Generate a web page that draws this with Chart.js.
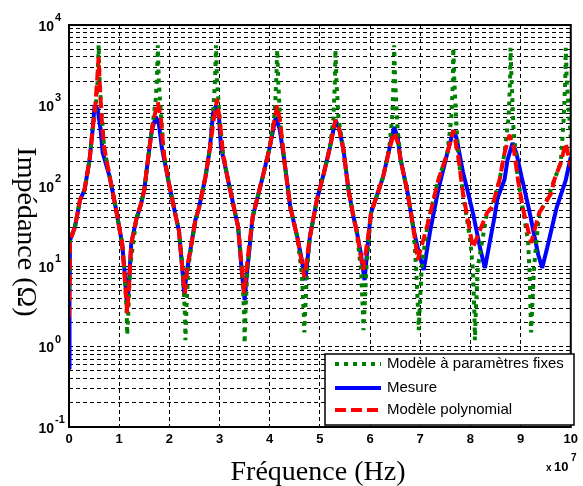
<!DOCTYPE html>
<html>
<head>
<meta charset="utf-8">
<script src="https://cdn.jsdelivr.net/npm/chart.js@4/dist/chart.umd.min.js"></script>
<style>
html,body{margin:0;padding:0;background:#fff;overflow:hidden}
canvas{display:block}
</style>
</head>
<body>
<canvas id="c" width="583" height="486"></canvas>
<script>
// ---- Data (frequency in units of 1e7 Hz, impedance in ohms) ----
const seriesLabels = ['Modèle à paramètres fixes', 'Mesure', 'Modèle polynomial'];
const xTitle = 'Fréquence (Hz)';
const yTitle = 'Impédance (Ω)';
const xTickValues = [0,1,2,3,4,5,6,7,8,9,10];
const yDecadeExponents = [-1,0,1,2,3,4];
const yGridValues = [0.1,0.2,0.3,0.4,0.5,0.6,0.7,0.8,0.9,
  1,2,3,4,5,6,7,8,9,10,20,30,40,50,60,70,80,90,
  100,200,300,400,500,600,700,800,900,1000,2000,3000,4000,5000,6000,7000,8000,9000,10000];
const xMultiplierExp = 7;

const mesure = [
 [0,0.53],[0.01,5],[0.02,21],[0.12,31],[0.22,67],[0.31,89],[0.41,210],[0.47,490],[0.51,1000],[0.57,900],[0.63,500],[0.67,260],
 [0.81,130],[0.94,50],[1.06,19],[1.12,7],[1.16,3.0],[1.20,7],[1.24,19],[1.34,38],[1.44,61],[1.50,89],[1.59,256],[1.65,490],
 [1.73,720],[1.79,600],[1.85,300],[1.99,108],[2.13,41],[2.19,28],[2.26,9],[2.30,4.2],[2.34,8],[2.42,16],[2.52,38],[2.58,50],
 [2.72,129],[2.81,300],[2.87,800],[2.93,1000],[2.99,700],[3.03,300],[3.17,118],[3.31,46],[3.37,31],[3.44,9],[3.50,3.8],[3.56,10],
 [3.66,41],[3.86,129],[4.00,300],[4.12,720],[4.20,500],[4.29,210],[4.41,54],[4.55,23],[4.64,12],[4.71,6.7],[4.80,23],[4.94,67],
 [5.08,144],[5.20,300],[5.31,660],[5.39,500],[5.47,280],[5.57,89],[5.67,41],[5.73,28],[5.82,14],[5.89,6.7],[5.98,28],[6.02,46],
 [6.26,129],[6.38,280],[6.48,540],[6.55,400],[6.61,210],[6.75,81],[6.87,28],[6.98,14],[7.07,9],[7.20,28],[7.36,89],[7.54,256],
 [7.66,490],[7.72,400],[7.85,150],[8.05,46],[8.20,16],[8.29,9.5],[8.43,28],[8.48,41],[8.54,70],[8.68,120],[8.74,210],[8.84,340],
 [8.92,250],[9.02,129],[9.17,50],[9.35,14],[9.43,9.5],[9.53,17],[9.72,54],[9.90,118],[10.0,228]
];

const polynomial = [
 [0,2.3],[0.01,6],[0.02,21],[0.12,31],[0.22,67],[0.31,89],[0.41,210],[0.47,490],[0.53,1100],[0.57,2500],[0.59,4000],[0.61,2000],
 [0.65,700],[0.70,300],[0.81,130],[0.94,50],[1.06,19],[1.12,6],[1.16,2.6],[1.20,6],[1.24,19],[1.34,38],[1.44,61],[1.50,89],
 [1.59,256],[1.67,600],[1.77,1100],[1.83,700],[1.89,250],[1.99,108],[2.13,41],[2.19,28],[2.26,9],[2.31,4.6],[2.36,10],[2.42,16],
 [2.52,38],[2.58,50],[2.72,129],[2.81,300],[2.89,700],[2.95,1200],[3.01,600],[3.07,250],[3.17,118],[3.31,46],[3.37,31],[3.44,10],
 [3.49,4.6],[3.55,11],[3.66,41],[3.86,129],[4.00,300],[4.10,700],[4.15,1000],[4.21,600],[4.29,210],[4.41,54],[4.55,23],[4.63,12],
 [4.69,7.3],[4.80,23],[4.94,67],[5.08,144],[5.20,300],[5.31,660],[5.37,550],[5.47,280],[5.57,89],[5.67,41],[5.73,28],[5.80,15],
 [5.86,9],[5.98,28],[6.02,46],[6.26,129],[6.38,280],[6.48,460],[6.55,350],[6.61,210],[6.75,81],[6.87,28],[6.95,12],[7.05,20],
 [7.15,34],[7.36,118],[7.54,256],[7.66,490],[7.76,228],[7.85,81],[7.89,60],[8.05,17],[8.19,28],[8.33,46],[8.43,54],[8.58,118],
 [8.68,256],[8.78,430],[8.86,300],[8.94,129],[9.04,54],[9.21,19.5],[9.37,46],[9.53,67],[9.61,81],[9.67,118],[9.80,192],[9.90,340],
 [10.0,171]
];

const fixedParams = [
 [0,4],[0.02,21],[0.12,31],[0.22,67],[0.31,89],[0.41,210],[0.47,490],[0.53,900],[0.57,2000],[0.59,5600],[0.61,2000],[0.65,800],
 [0.70,300],[0.81,130],[0.94,50],[1.06,19],[1.11,8],[1.15,2.5],[1.16,1.4],[1.18,2.5],[1.22,10],[1.34,38],[1.44,61],[1.50,89],
 [1.59,256],[1.67,600],[1.73,1200],[1.76,3000],[1.77,5600],[1.79,2000],[1.83,800],[1.89,250],[1.99,108],[2.13,41],[2.19,28],[2.27,9],
 [2.31,2.5],[2.32,1.2],[2.34,3],[2.38,10],[2.52,38],[2.58,50],[2.72,129],[2.81,300],[2.87,800],[2.91,2000],[2.93,5600],[2.95,2000],
 [3.01,600],[3.07,250],[3.17,118],[3.31,46],[3.37,31],[3.45,9],[3.49,2.5],[3.50,1.1],[3.52,3],[3.56,10],[3.66,41],[3.86,129],
 [4.00,300],[4.10,800],[4.13,2000],[4.15,4900],[4.17,2000],[4.21,600],[4.29,210],[4.41,54],[4.55,23],[4.64,8],[4.68,2.5],[4.69,1.5],
 [4.71,3],[4.75,10],[4.80,23],[4.94,67],[5.08,144],[5.20,300],[5.27,700],[5.30,2000],[5.31,4900],[5.33,2000],[5.37,700],[5.47,280],
 [5.57,89],[5.67,41],[5.73,28],[5.82,9],[5.86,2.5],[5.87,1.6],[5.89,3],[5.93,10],[6.02,46],[6.26,129],[6.38,280],[6.44,700],
 [6.47,2000],[6.48,5600],[6.50,2000],[6.55,500],[6.61,210],[6.75,81],[6.87,28],[6.92,9],[6.96,2.5],[6.97,1.6],[6.99,3],[7.03,10],
 [7.15,34],[7.36,118],[7.54,256],[7.62,700],[7.65,2000],[7.66,5200],[7.68,2000],[7.72,600],[7.76,228],[7.85,81],[8.00,20],[8.05,9],
 [8.08,2.5],[8.09,1.2],[8.11,3],[8.15,10],[8.33,46],[8.43,54],[8.58,118],[8.68,256],[8.76,700],[8.79,2000],[8.80,5200],[8.82,2000],
 [8.86,500],[8.94,129],[9.04,54],[9.15,20],[9.18,8],[9.20,2.5],[9.21,1.5],[9.23,3],[9.27,10],[9.37,46],[9.53,67],[9.67,118],
 [9.80,192],[9.86,700],[9.89,2000],[9.90,5200],[9.92,2000],[9.96,900],[10.0,400]
];

// ---- Chart ----
const toXY = arr => arr.map(p => ({x: p[0], y: p[1]}));
const sansFont = '"Liberation Sans", Arial, Helvetica, sans-serif';
const serifFont = '"Liberation Serif", "Times New Roman", serif';

const decorPlugin = {
  id: 'decor',
  afterDraw(chart) {
    const ctx = chart.ctx;
    const a = chart.chartArea;
    const ys = chart.scales.y;
    ctx.save();
    ctx.setLineDash([]);
    // plot frame
    ctx.strokeStyle = '#000';
    ctx.lineWidth = 2;
    ctx.strokeRect(a.left, a.top, a.right - a.left, a.bottom - a.top);

    // y decade labels 10^n
    ctx.fillStyle = '#000';
    yDecadeExponents.forEach(e => {
      const py = ys.getPixelForValue(Math.pow(10, e));
      ctx.font = 'bold 14px ' + sansFont;
      ctx.textAlign = 'right';
      ctx.textBaseline = 'middle';
      ctx.fillText('10', a.left - 15, py + 2);
      ctx.font = 'bold 11px ' + sansFont;
      ctx.textAlign = 'left';
      ctx.fillText(String(e), a.left - 14, py - 7);
    });

    // x multiplier  x 10^7
    ctx.textBaseline = 'middle';
    ctx.textAlign = 'left';
    ctx.font = 'bold 10px ' + sansFont;
    ctx.fillText('x', 546, 468);
    ctx.font = 'bold 13px ' + sansFont;
    ctx.fillText('10', 554, 467);
    ctx.font = 'bold 10px ' + sansFont;
    ctx.fillText(String(xMultiplierExp), 571, 458);

    // axis titles
    ctx.font = '28px ' + serifFont;
    ctx.textAlign = 'center';
    ctx.textBaseline = 'alphabetic';
    ctx.fillText(xTitle, 318, 480);
    ctx.save();
    ctx.translate(25, 232);
    ctx.rotate(Math.PI / 2);
    ctx.textBaseline = 'middle';
    ctx.fillText(yTitle, 0, 0);
    ctx.restore();

    // legend
    const lx = 325, ly = 354, lw = 249, lh = 71;
    ctx.fillStyle = '#fff';
    ctx.fillRect(lx, ly, lw, lh);
    ctx.strokeStyle = '#000';
    ctx.lineWidth = 1.5;
    ctx.strokeRect(lx, ly, lw, lh);
    const rowsY = [364, 388, 410];
    const dsByLabel = {};
    chart.data.datasets.forEach(d => { dsByLabel[d.label] = d; });
    seriesLabels.forEach((lab, i) => {
      const d = dsByLabel[lab];
      const y = rowsY[i];
      ctx.save();
      ctx.strokeStyle = d.borderColor;
      ctx.lineWidth = d.borderWidth;
      ctx.lineCap = 'butt';
      ctx.setLineDash(d.borderDash || []);
      ctx.beginPath();
      ctx.moveTo(335, y);
      ctx.lineTo(381, y);
      ctx.stroke();
      ctx.restore();
      ctx.fillStyle = '#000';
      ctx.font = '15px ' + sansFont;
      ctx.textAlign = 'left';
      ctx.textBaseline = 'middle';
      ctx.fillText(lab, 387, y);
    });
    ctx.restore();
  }
};

new Chart(document.getElementById('c'), {
  type: 'line',
  data: {
    datasets: [
      { label: seriesLabels[2], data: toXY(polynomial), borderColor: '#ff0000', borderWidth: 4,
        borderDash: [11, 5], order: 1 },
      { label: seriesLabels[0], data: toXY(fixedParams), borderColor: '#008000', borderWidth: 4,
        borderDash: [4, 5], order: 2 },
      { label: seriesLabels[1], data: toXY(mesure), borderColor: '#0000ff', borderWidth: 4,
        borderDash: [], order: 3 }
    ]
  },
  options: {
    responsive: false,
    animation: false,
    devicePixelRatio: 1,
    layout: { padding: { left: 0, right: 6, top: 25, bottom: 0 } },
    elements: {
      point: { radius: 0, hoverRadius: 0 },
      line: { tension: 0, fill: false, borderJoinStyle: 'bevel', borderCapStyle: 'butt' }
    },
    plugins: { legend: { display: false }, tooltip: { enabled: false } },
    scales: {
      x: {
        type: 'linear', min: 0, max: 10,
        afterBuildTicks: s => { s.ticks = xTickValues.map(v => ({ value: v })); },
        afterFit: s => { s.height = 59; },
        grid: { color: '#000', lineWidth: 1, drawTicks: false },
        border: { display: false, dash: [4, 3] },
        ticks: { padding: 5, color: '#000', autoSkip: false, maxRotation: 0,
          font: { family: sansFont, weight: 'bold', size: 13 },
          callback: v => String(v) }
      },
      y: {
        type: 'logarithmic', min: 0.1, max: 10000,
        afterBuildTicks: s => { s.ticks = yGridValues.map(v => ({ value: v })); },
        afterFit: s => { s.width = 69; },
        grid: { color: '#000', lineWidth: 1, drawTicks: false },
        border: { display: false, dash: [4, 3] },
        ticks: { display: false, callback: () => '' }
      }
    }
  },
  plugins: [decorPlugin]
});
</script>
</body>
</html>
